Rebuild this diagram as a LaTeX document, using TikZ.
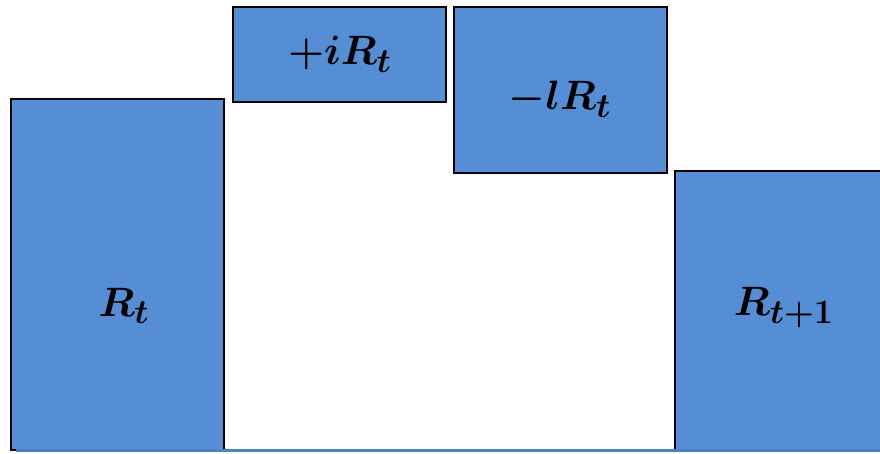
\documentclass[tikz,border=0pt]{standalone}
\usepackage{amsmath}
\usepackage{bm}
\usepackage{graphicx}
\definecolor{boxblue}{RGB}{85,142,213}
\definecolor{lineblue}{RGB}{79,129,189}
\newcommand{\biglbl}[1]{\scalebox{1.65}{\Huge$\bm{#1}$}}
\tikzset{
  bar/.style={draw=black, line width=2.8pt, fill=boxblue, inner sep=0pt, outer sep=0pt},
  lbl/.style={inner sep=0pt},
}
\begin{document}
\begin{tikzpicture}[x=1pt,y=-1pt]
\useasboundingbox (0,0) rectangle (880,453);
\node[bar, minimum width=213pt, minimum height=351pt] (rt) at (117.5,274.5) {};
\node[bar, minimum width=213pt, minimum height=95pt] (it) at (339.5,54.5) {};
\node[bar, minimum width=213pt, minimum height=166pt] (lt) at (560.5,90) {};
\node[bar, minimum width=220pt, minimum height=279pt] (rt1) at (785,310.5) {};
\node[lbl] (lrt) at (124,306) {\biglbl{R_t}};
\node[lbl] (lit) at (340,54) {\biglbl{+iR_t}};
\node[lbl] (llt) at (560,99) {\biglbl{-lR_t}};
\node[lbl] (lrt1) at (784,308) {\biglbl{R_{t+1}}};
\coordinate (bl) at (16,450.5);
\coordinate (br) at (880,450.5);
\draw[lineblue, line width=3pt] (bl) -- (br);
\end{tikzpicture}
\end{document}
